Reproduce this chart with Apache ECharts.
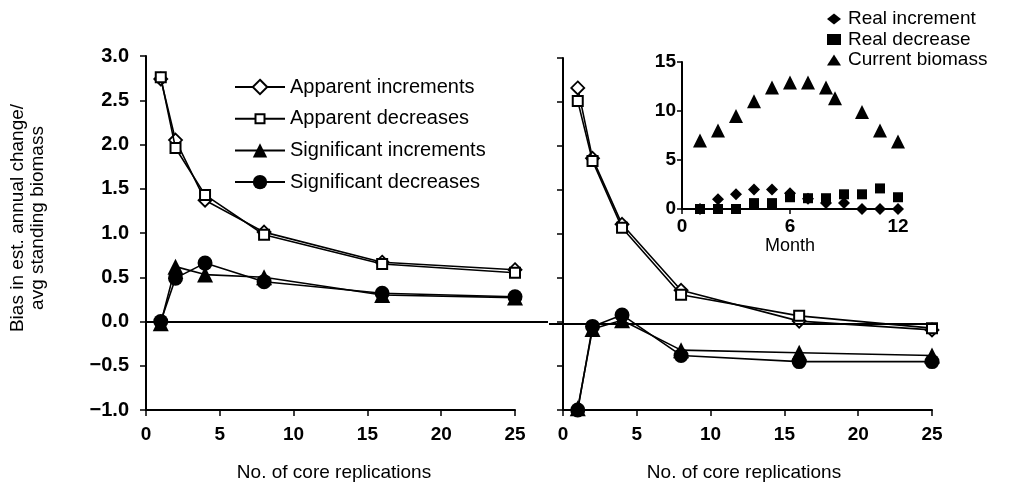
<!DOCTYPE html>
<html><head><meta charset="utf-8">
<script src="https://cdn.jsdelivr.net/npm/echarts@6/dist/echarts.min.js"></script>
<style>html,body{margin:0;padding:0;background:#fff}#c{width:1013px;height:487px}</style>
</head><body><div id="c"></div>
<script>
// ---- data ----
const replications = [1, 2, 4, 8, 16, 25];
const leftApparentIncrements   = [2.74, 2.05, 1.37, 1.01, 0.67, 0.585];
const leftApparentDecreases    = [2.76, 1.96, 1.43, 0.98, 0.65, 0.55];
const leftSignificantIncrements= [-0.02, 0.62, 0.53, 0.50, 0.30, 0.27];
const leftSignificantDecreases = [0.00, 0.49, 0.66, 0.45, 0.32, 0.28];
const rightApparentIncrements   = [2.66, 1.86, 1.11, 0.36, 0.01, -0.09];
const rightApparentDecreases    = [2.51, 1.83, 1.07, 0.31, 0.07, -0.07];
const rightSignificantIncrements= [-0.98, -0.08, 0.02, -0.32, -0.35, -0.38];
const rightSignificantDecreases = [-1.00, -0.05, 0.08, -0.38, -0.45, -0.45];
const months = [1,2,3,4,5,6,7,8,9,10,11,12];
const realIncrement = [0, 1.0, 1.5, 2.0, 2.0, 1.6, 1.05, 0.6, 0.6, 0, 0, 0];
const realDecrease  = [0, 0, 0, 0.6, 0.6, 1.2, 1.1, 1.1, 1.5, 1.5, 2.1, 1.2];
const biomassMonths = [1,2,3,4,5,6,7,8,8.5,10,11,12];
const currentBiomass= [7.0, 8.0, 9.5, 11.0, 12.4, 12.9, 12.9, 12.4, 11.3, 9.9, 8.0, 6.9];
const seriesNames = ['Apparent increments','Apparent decreases','Significant increments','Significant decreases'];
const insetNames = ['Real increment','Real decrease','Current biomass'];
const yAxisTitle = 'Bias in est. annual change/\navg standing biomass';
const xAxisTitle = 'No. of core replications';

// ---- build ----
const FONT = '"Liberation Sans", Arial, Helvetica, sans-serif';
const pairs = (xs, ys) => xs.map((x, i) => [x, ys[i]]);
const fmtY = v => (v < 0 ? '\u2212' : '') + Math.abs(v).toFixed(1);

function mainX(gi, name, pad) {
  return {
    gridIndex: gi, type: 'value', min: 0, max: 25, interval: 5,
    axisLine: {onZero: false, lineStyle: {color: '#000', width: 2}},
    axisTick: {show: true, inside: false, length: 6, lineStyle: {color: '#000', width: 1.5}},
    axisLabel: {color: '#000', fontFamily: FONT, fontSize: 19, fontWeight: 'bold', margin: 15},
    splitLine: {show: false},
    name: name, nameLocation: 'middle', nameGap: 53,
    nameTextStyle: {color: '#000', fontFamily: FONT, fontSize: 19, padding: pad}
  };
}
function mainY(gi, showLabels) {
  return {
    gridIndex: gi, type: 'value', min: -1, max: 3, interval: 0.5,
    axisLine: {show: true, onZero: false, lineStyle: {color: '#000', width: 2}},
    axisTick: {show: true, inside: false, length: 6, lineStyle: {color: '#000', width: 1.5}},
    axisLabel: {show: showLabels, color: '#000', fontFamily: FONT, fontSize: 20, fontWeight: 'bold', margin: 17, formatter: fmtY},
    splitLine: {show: false}
  };
}
function hiddenX(gi) { return {gridIndex: gi, type: 'value', min: 0, max: 1, show: false}; }
function hiddenY(gi) { return {gridIndex: gi, type: 'value', min: -1, max: 3, show: false}; }

const styles = [
  {symbol: 'diamond', symbolSize: 13, itemStyle: {color: '#fff', borderColor: '#000', borderWidth: 1.8}},
  {symbol: 'rect', symbolSize: 10, itemStyle: {color: '#fff', borderColor: '#000', borderWidth: 2}},
  {symbol: 'triangle', symbolSize: 16, itemStyle: {color: '#000', borderColor: '#000', borderWidth: 0}},
  {symbol: 'circle', symbolSize: 15, itemStyle: {color: '#000', borderColor: '#000', borderWidth: 0}}
];
function lineSeries(idx, gi, ys) {
  return Object.assign({
    type: 'line', name: seriesNames[idx], xAxisIndex: gi, yAxisIndex: gi,
    data: pairs(replications, ys), showAllSymbol: true,
    lineStyle: {color: '#000', width: 1.6}, z: 3 + idx, animation: false
  }, styles[idx]);
}
function zeroLine(gi) {
  return {
    type: 'line', xAxisIndex: gi, yAxisIndex: gi, data: [[0, 0]], symbol: 'none',
    lineStyle: {width: 0}, animation: false, silent: true, z: 2,
    markLine: {symbol: 'none', silent: true, animation: false, label: {show: false},
      lineStyle: {color: '#000', width: 2, type: 'solid'}, data: [{yAxis: 0}]}
  };
}
function insetSeries(idx, xs, ys, symbol, size) {
  return {type: 'scatter', name: insetNames[idx], xAxisIndex: 4, yAxisIndex: 4, data: pairs(xs, ys),
    symbol: symbol, symbolSize: size, itemStyle: {color: '#000', opacity: 1}, z: 5 - idx, animation: false};
}

// legend entry for the small hollow square: line + small square
const smallSquareIcon = 'path://M0 9L20 9M30 9L50 9M20.5 4.5L29.5 4.5L29.5 13.5L20.5 13.5Z';

const option = {
  backgroundColor: '#fff',
  animation: false,
  grid: [
    {left: 146, top: 56, width: 369, height: 354},   // left panel
    {left: 563, top: 58, width: 369, height: 354},   // right panel
    {left: 146, top: 56, width: 402, height: 354},   // left zero line
    {left: 549, top: 58, width: 389, height: 354},   // right zero line
    {left: 682, top: 62, width: 216, height: 147}    // inset
  ],
  xAxis: [
    mainX(0, xAxisTitle, [0, 0, 0, 7]),
    mainX(1, xAxisTitle, [0, 7, 0, 0]),
    hiddenX(2), hiddenX(3),
    {gridIndex: 4, type: 'value', min: 0, max: 12, interval: 6,
     axisLine: {onZero: false, lineStyle: {color: '#000', width: 2}},
     axisTick: {length: 5, lineStyle: {color: '#000', width: 1.5}},
     axisLabel: {color: '#000', fontFamily: FONT, fontSize: 19, fontWeight: 'bold', margin: 8},
     splitLine: {show: false},
     name: 'Month', nameLocation: 'middle', nameGap: 22,
     nameTextStyle: {color: '#000', fontFamily: FONT, fontSize: 18}}
  ],
  yAxis: [
    mainY(0, true), mainY(1, false), hiddenY(2), hiddenY(3),
    {gridIndex: 4, type: 'value', min: 0, max: 15, interval: 5,
     axisLine: {show: true, onZero: false, lineStyle: {color: '#000', width: 2}},
     axisTick: {show: true, length: 5, lineStyle: {color: '#000', width: 1.5}},
     axisLabel: {color: '#000', fontFamily: FONT, fontSize: 19, fontWeight: 'bold', margin: 6},
     splitLine: {show: false}}
  ],
  legend: [
    {data: [
       {name: seriesNames[0]},
       {name: seriesNames[1], icon: smallSquareIcon},
       {name: seriesNames[2]},
       {name: seriesNames[3]}
     ],
     orient: 'vertical', left: 229, top: 72,
     itemWidth: 50, itemHeight: 18, itemGap: 11.7,
     textStyle: {color: '#000', fontFamily: FONT, fontSize: 20, lineHeight: 20},
     selectedMode: false},
    {data: insetNames, orient: 'vertical', left: 822, top: 4,
     itemWidth: 14, itemHeight: 11, itemGap: 0.5,
     itemStyle: {opacity: 1},
     textStyle: {color: '#000', fontFamily: FONT, fontSize: 19, lineHeight: 20, padding: [0, 0, 0, 2]},
     selectedMode: false}
  ],
  graphic: [{
    type: 'text', x: 28, y: 218, rotation: Math.PI / 2,
    style: {text: yAxisTitle, fill: '#000', font: '19px ' + FONT, align: 'center', verticalAlign: 'middle', lineHeight: 20}
  }],
  series: [
    zeroLine(2), zeroLine(3),
    lineSeries(0, 0, leftApparentIncrements),
    lineSeries(1, 0, leftApparentDecreases),
    lineSeries(2, 0, leftSignificantIncrements),
    lineSeries(3, 0, leftSignificantDecreases),
    lineSeries(0, 1, rightApparentIncrements),
    lineSeries(1, 1, rightApparentDecreases),
    lineSeries(2, 1, rightSignificantIncrements),
    lineSeries(3, 1, rightSignificantDecreases),
    insetSeries(0, months, realIncrement, 'diamond', 12),
    insetSeries(1, months, realDecrease, 'rect', 10),
    insetSeries(2, biomassMonths, currentBiomass, 'triangle', 14)
  ]
};
const chart = echarts.init(document.getElementById('c'), null, {renderer: 'canvas'});
chart.setOption(option);
</script>
</body></html>
